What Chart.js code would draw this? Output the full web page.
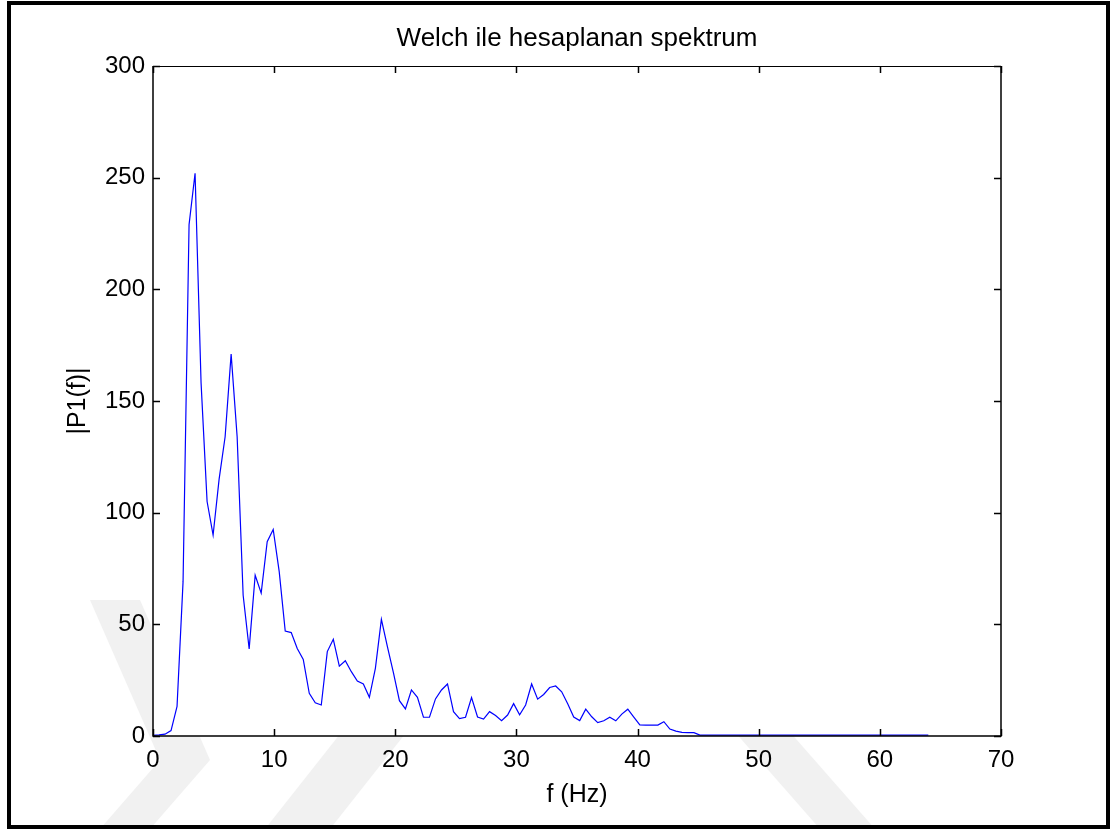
<!DOCTYPE html>
<html>
<head>
<meta charset="utf-8">
<title>Welch ile hesaplanan spektrum</title>
<script src="https://cdn.jsdelivr.net/npm/chart.js@4.4.1/dist/chart.umd.min.js"></script>
<style>
  html, body { margin: 0; padding: 0; background: #fff; }
  canvas { display: block; }
</style>
</head>
<body>
<canvas id="spektrum" width="1115" height="829"></canvas>
<script>
// Welch PSD estimate, one value per frequency bin
const binWidth = 64 / 129;   // Hz between bins
const psdValues = [
  0.3, 0.5, 0.8, 2.4, 13.3, 69, 229, 252, 158, 105,
  90, 115, 134, 171, 134, 63, 39, 72, 64, 87,
  92.5, 73.6, 47, 46.3, 39.2, 34.3, 19.1, 14.9, 13.9, 37.8,
  43.3, 31.3, 33.7, 28.8, 24.6, 23.3, 17.3, 30.3, 52.2, 40,
  28.4, 15.8, 12.1, 20.6, 17.3, 8.4, 8.4, 16.6, 20.6, 23.3,
  10.9, 7.8, 8.4, 17.2, 8.5, 7.6, 10.9, 9.2, 6.9, 9.4,
  14.5, 9.5, 13.9, 23.3, 16.5, 18.6, 21.7, 22.4, 19.8, 14.4,
  8.5, 6.9, 12, 8.6, 6, 6.8, 8.4, 6.8, 9.8, 12,
  8.5, 5, 4.9, 4.9, 4.9, 6.4, 3.1, 2.2, 1.6, 1.5,
  1.5, 0.4, 0.4, 0.4, 0.4, 0.4, 0.4, 0.4, 0.4, 0.4,
  0.4, 0.4, 0.4, 0.4, 0.4, 0.4, 0.4, 0.4, 0.4, 0.4,
  0.4, 0.4, 0.4, 0.4, 0.4, 0.4, 0.4, 0.4, 0.4, 0.4,
  0.4, 0.4, 0.4, 0.4, 0.4, 0.4, 0.4, 0.4, 0.4, 0.4
];
const freqTicks = [0, 10, 20, 30, 40, 50, 60, 70];
const powerTicks = [0, 50, 100, 150, 200, 250, 300];

const points = psdValues.map((v, i) => ({ x: i * binWidth, y: v }));

const FONT = 'Liberation Sans, Arial, Helvetica, sans-serif';

// page background, faint logo in the margins, white axes background
const figureBackground = {
  id: 'figureBackground',
  beforeDraw(chart) {
    const { ctx, chartArea: a } = chart;
    ctx.save();
    ctx.fillStyle = '#fff';
    ctx.fillRect(0, 0, chart.width, chart.height);
    ctx.fillStyle = '#f1f1f1';
    const shapes = [
      [[90, 600], [140, 600], [210, 760], [150, 829], [100, 829], [160, 760]],
      [[265, 829], [330, 829], [420, 715], [355, 715]],
      [[720, 715], [775, 715], [875, 829], [820, 829]]
    ];
    shapes.forEach(s => {
      ctx.beginPath();
      s.forEach(([x, y], k) => (k ? ctx.lineTo(x, y) : ctx.moveTo(x, y)));
      ctx.closePath();
      ctx.fill();
    });
    ctx.fillStyle = '#fff';
    ctx.fillRect(a.left, a.top, a.right - a.left, a.bottom - a.top);
    ctx.restore();
  }
};

// axes box with inward ticks on all four sides, plus the figure frame
const axesBox = {
  id: 'axesBox',
  afterDraw(chart) {
    const { ctx, chartArea: a, scales } = chart;
    const len = 7;
    ctx.save();
    ctx.strokeStyle = '#000';
    ctx.lineWidth = 1.5;
    ctx.beginPath();
    scales.x.ticks.forEach(t => {
      const px = Math.round(scales.x.getPixelForValue(t.value)) + 0.5;
      ctx.moveTo(px, a.bottom); ctx.lineTo(px, a.bottom - len);
      ctx.moveTo(px, a.top); ctx.lineTo(px, a.top + len);
    });
    scales.y.ticks.forEach(t => {
      const py = Math.round(scales.y.getPixelForValue(t.value)) + 0.5;
      ctx.moveTo(a.left, py); ctx.lineTo(a.left + len, py);
      ctx.moveTo(a.right, py); ctx.lineTo(a.right - len, py);
    });
    ctx.stroke();

    ctx.lineWidth = 1.5;
    ctx.beginPath();
    ctx.moveTo(a.left, a.top);
    ctx.lineTo(a.left, a.bottom);
    ctx.lineTo(a.right, a.bottom);
    ctx.lineTo(a.right, a.top);
    ctx.stroke();
    ctx.lineWidth = 1;
    ctx.beginPath();
    ctx.moveTo(a.left, a.top + 0.5);
    ctx.lineTo(a.right, a.top + 0.5);
    ctx.stroke();

    ctx.lineWidth = 4;
    ctx.strokeRect(9, 3, 1099, 824);
    ctx.restore();
  }
};

new Chart(document.getElementById('spektrum'), {
  type: 'line',
  data: {
    datasets: [{
      data: points,
      borderColor: 'rgb(0, 0, 255)',
      borderWidth: 1.2,
      pointRadius: 0,
      tension: 0,
      fill: false
    }]
  },
  options: {
    responsive: false,
    animation: false,
    layout: { padding: { left: 0, right: 114, top: 0, bottom: 0 } },
    plugins: {
      legend: { display: false },
      tooltip: { enabled: false },
      title: {
        display: true,
        fullSize: false,
        text: 'Welch ile hesaplanan spektrum',
        color: '#000',
        font: { family: FONT, size: 26, weight: 'normal' },
        padding: { top: 23.5, bottom: 11.3 }
      }
    },
    scales: {
      x: {
        type: 'linear',
        min: freqTicks[0],
        max: freqTicks[freqTicks.length - 1],
        afterBuildTicks: s => { s.ticks = freqTicks.map(v => ({ value: v })); },
        afterFit: s => { s.height = 93; },
        grid: { display: false, drawTicks: false },
        border: { display: false },
        ticks: { color: '#000', padding: 10, maxRotation: 0, font: { family: FONT, size: 24 } },
        title: {
          display: true,
          text: 'f (Hz)',
          color: '#000',
          font: { family: FONT, size: 25 },
          padding: { top: 0, bottom: 19 }
        }
      },
      y: {
        min: powerTicks[0],
        max: powerTicks[powerTicks.length - 1],
        afterBuildTicks: s => { s.ticks = powerTicks.map(v => ({ value: v })); },
        afterFit: s => { s.width = 153; },
        grid: { display: false, drawTicks: false },
        border: { display: false },
        ticks: { color: '#000', padding: 8, font: { family: FONT, size: 24 } },
        title: {
          display: true,
          text: '|P1(f)|',
          color: '#000',
          font: { family: FONT, size: 25 },
          padding: { top: 63, bottom: 0 }
        }
      }
    }
  },
  plugins: [figureBackground, axesBox]
});
</script>
</body>
</html>
